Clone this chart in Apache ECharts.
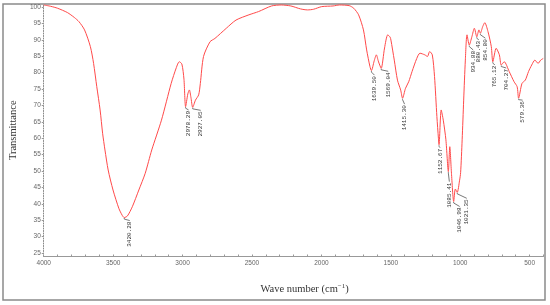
<!DOCTYPE html>
<html><head><meta charset="utf-8">
<script src="https://cdn.jsdelivr.net/npm/echarts@6/dist/echarts.min.js"></script>
<style>html,body{margin:0;padding:0;background:#fff}#c{width:550px;height:305px}</style>
</head><body><div id="c"></div>
<script>
// ---- data ----
const wavenumbers = [4000,3950,3900,3830,3780,3746,3706,3664,3641,3618,3594,3576,3559,3536,3501,3459,3435,3420.28,3397,3362,3315,3269,3222,3152,3082,3045,3024,3005,2990,2978.29,2962,2951,2940,2927.05,2907,2884,2872,2849,2802,2767,2685,2615,2522,2452,2359,2289,2220,2150,2100,2056,1998,1916,1870,1800,1767,1732,1697,1674,1650,1639.5,1620,1604,1590,1580,1569.04,1545,1522,1505,1499,1475,1452,1429,1415.3,1394,1371,1347,1313,1290,1255,1236,1220,1201,1185,1168,1157,1152.67,1137,1122,1103,1085.41,1075,1063,1046.98,1035,1021.35,1005,997,986,975,963,951,934.88,916,898,880.43,865,854.8,838,823,800,776,765.12,741,718,704.27,683,647,612,590,579.36,555,531,508,485,462,439,420,402];
const transmittance = [100.6,100.2,99.6,98.3,96.8,95.5,93,87.9,82.8,75.7,68.6,61.5,56.4,50.3,44.2,38.6,36.5,35.8,36.3,39.1,44.2,49.3,56.4,65.5,76.7,81.5,83.3,82.6,78,69.6,73.5,74.7,72.5,69.4,71.6,73.2,76.7,84.9,89.4,90.4,93.5,96,97.6,98.6,100.3,100.6,100.3,99.4,99.1,99.3,100.1,100.3,100.6,100.4,99.6,97.6,93,86.9,81.8,80.6,83.5,85.4,83.5,82.3,81.3,87.5,91.5,90.8,89.9,83.8,77.7,74.7,72.2,75.2,77.2,80.3,84.3,85.9,85.4,84.9,86.4,85.4,78.8,66.6,60,58,68.6,65.5,59.5,49.8,57.4,49.3,40.7,44.5,43.5,47,49.5,59.5,71.6,83.8,91.5,88.4,90.9,93.5,90.9,93,92,94,95.2,92.5,87.9,83.3,87.4,85.4,82.3,83.3,80.3,77.2,75.7,72.2,76.7,77.7,80.3,82.3,83.8,82.8,83.8,84.3];
const peakWn = [3420.28,2978.29,2927.05,1639.50,1569.04,1415.30,1152.67,1085.41,1046.98,1021.35,934.88,880.43,854.80,765.12,704.27,579.36];
const peakT  = [35.8,69.6,69.4,80.6,81.3,72.2,58,49.8,40.7,43.5,88.4,90.9,92,83.3,82.3,72.2];
const peakLabels = ['3420.28','2978.29','2927.05','1639.50','1569.04','1415.30','1152.67','1085.41','1046.98','1021.35','934.88','880.43','854.80','765.12','704.27','579.36'];
const xTickLabels = [500,1000,1500,2000,2500,3000,3500,4000];
const yTickLabels = [25,30,35,40,45,50,55,60,65,70,75,80,85,90,95,100];
// ---- label layout (pixel offsets, style only) ----
const labelDx  = [5.5,3,8,3,7,2,1,1,6,9.5,4,2,5,2,5,4];
const labelGap = [3,3.3,3,4.5,3,6,3,10,5,6,5,3,5,3,3,2];

const xMinor = [];
for (let v = 400; v <= 4000; v += 100) xMinor.push(v);

const chart = echarts.init(document.getElementById('c'), null, {renderer:'canvas'});
const series = wavenumbers.map((w,i)=>[w, transmittance[i]]);
const peaks = peakWn.map((w,i)=>[w, peakT[i], i]);

chart.setOption({
  animation:false,
  backgroundColor:'#fff',
  grid:{left:28.7, right:6.5, top:4, bottom:48.5, containLabel:false},
  xAxis:{
    type:'value', inverse:true, min:400, max:4000,
    name:'Wave number (cm{sup|\u22121})', nameLocation:'middle', nameGap:26,
    nameTextStyle:{fontFamily:'Liberation Serif', fontSize:10.5, color:'#333', padding:[0,0,0,22],
      rich:{sup:{fontFamily:'Liberation Serif', fontSize:7, color:'#333', padding:[0,0,6,0]}}},
    axisLine:{show:true, lineStyle:{color:'#999', width:1}},
    axisTick:{show:true, customValues:xMinor, length:2, inside:true, lineStyle:{color:'#999'}},
    axisLabel:{customValues:xTickLabels, formatter:function(v){return String(v);}, fontFamily:'Liberation Sans', fontSize:6.5, color:'#666', margin:3},
    splitLine:{show:false}
  },
  yAxis:{
    type:'value', min:23.93, max:100.9,
    name:'Transmittance', nameLocation:'middle', nameGap:14, nameRotate:90,
    nameTextStyle:{fontFamily:'Liberation Serif', fontSize:10.5, color:'#333'},
    axisLine:{show:true, lineStyle:{color:'#888', width:1, type:[1,1.5]}},
    axisTick:{show:true, customValues:yTickLabels, length:2, lineStyle:{color:'#999'}},
    axisLabel:{customValues:yTickLabels, formatter:function(v){return String(v);}, fontFamily:'Liberation Sans', fontSize:6.5, color:'#666', margin:3},
    splitLine:{show:false}
  },
  graphic:[{type:'rect', shape:{x:3, y:4, width:542, height:296}, style:{fill:'none', stroke:'#8a8a8a', lineWidth:1.5}, silent:true, z:-1}],
  series:[
    {type:'line', data:series, showSymbol:false, smooth:0.25, clip:false,
     lineStyle:{color:'#ff4a4a', width:1}, z:3},
    {type:'custom', data:peaks, clip:false, z:4,
     renderItem:function(params, api){
       const p = api.coord([api.value(0), api.value(1)]);
       const i = api.value(2);
       const dx = labelDx[i], gap = labelGap[i];
       const tx = p[0]+dx, ty = p[1]+gap;
       return {type:'group', children:[
         {type:'polyline', shape:{points:[[p[0],p[1]+0.5],[p[0],p[1]+1.5],[tx,ty]]}, style:{stroke:'#555', lineWidth:0.8, fill:null}},
         {type:'text', x:tx, y:ty+1, rotation:Math.PI/2,
          style:{text:peakLabels[i], fill:'#333', font:'6px "Liberation Mono"', align:'right', verticalAlign:'middle'}}
       ]};
     }}
  ]
});
</script></body></html>
